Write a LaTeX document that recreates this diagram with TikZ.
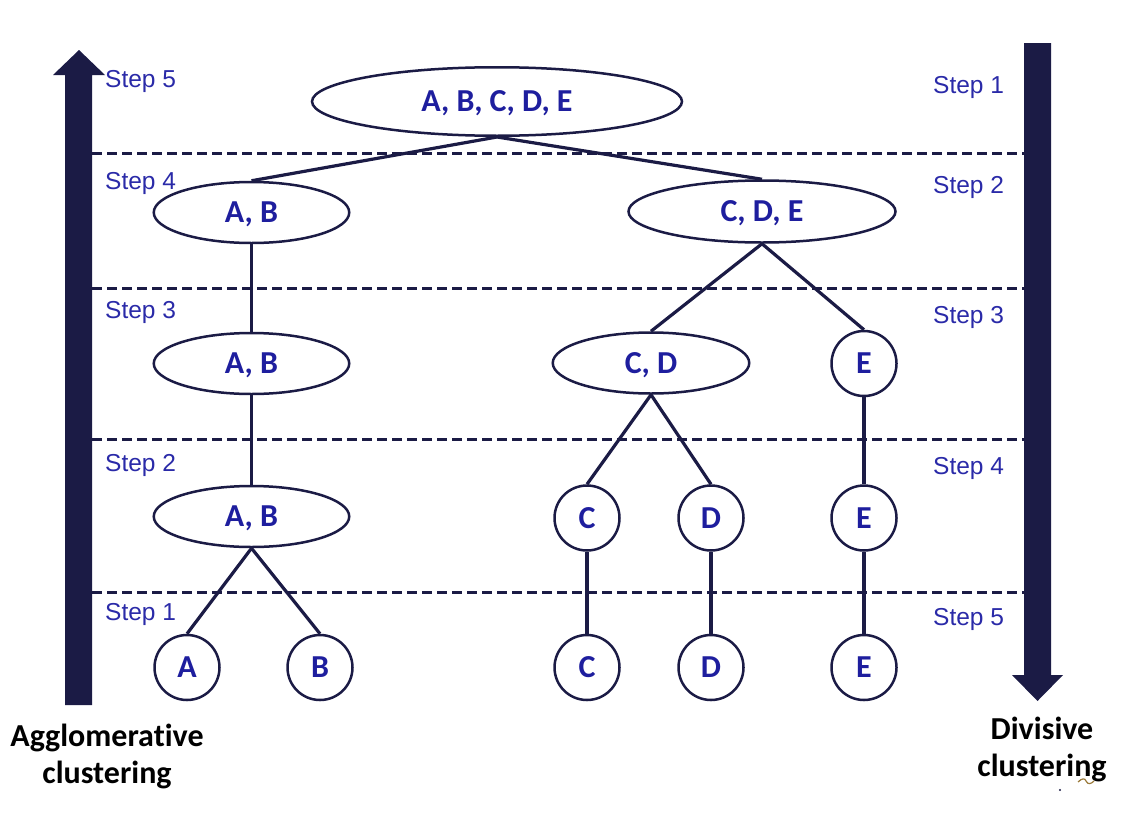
\documentclass[tikz,border=0pt]{standalone}
\usepackage{fontspec}
\setmainfont[Ligatures={NoCommon,NoContextual}]{Carlito}
\newfontfamily\arialf{Liberation Sans}
\usetikzlibrary{shapes.geometric}
\definecolor{navy}{HTML}{1B1B45}
\definecolor{lblue}{HTML}{1E1E9E}
\definecolor{sblue}{HTML}{2A2AA8}
\definecolor{squig}{HTML}{9A7A3A}
\tikzset{
  ell/.style={ellipse, draw=navy, line width=2.5pt, inner sep=0pt, text=lblue,
     font=\fontsize{32}{36}\selectfont\bfseries, text height=20.6pt, text depth=0pt},
  circ/.style={circle, draw=navy, line width=2.5pt, inner sep=0pt, minimum size=65pt, text=lblue,
     font=\fontsize{32}{36}\selectfont\bfseries, text height=20.6pt, text depth=0pt},
  conn/.style={draw=navy, line width=3.2pt},
  sep/.style={draw=navy, line width=3pt, dash pattern=on 10pt off 5pt},
  steplbl/.style={anchor=west, inner sep=0pt, text=sblue, font=\arialf\fontsize{24.5}{29}\selectfont},
  bottomlbl/.style={align=center, inner sep=0pt, text=black, font=\fontsize{32}{37}\selectfont\bfseries},
  bigarrow/.style={fill=navy, draw=none}
}
\begin{document}
\begin{tikzpicture}[x=1pt,y=-1pt]
\useasboundingbox (0,0) rectangle (1131,819);
% big arrows
\fill[bigarrow] (65,705) -- (65,75) -- (53,75) -- (79,50) -- (105,75) -- (92,75) -- (92,705) -- cycle;
\fill[bigarrow] (1024,43) -- (1024,675) -- (1012,675) -- (1037.5,701) -- (1063,675) -- (1051,675) -- (1051,43) -- cycle;
% dashed separators
\foreach \yy in {153,288,439,592} \draw[sep] (92,\yy) -- (1024,\yy);
% nodes
\node[ell, minimum width=370pt, minimum height=68.5pt] (abcde) at (497,101.5) {A, B, C, D, E};
\node[ell, minimum width=195.5pt, minimum height=61pt] (ab4) at (251.5,212.5) {A, B};
\node[ell, minimum width=267pt, minimum height=62pt] (cde) at (762,211.5) {C, D, E};
\node[ell, minimum width=195.5pt, minimum height=61pt] (ab3) at (251.5,363.5) {A, B};
\node[ell, minimum width=196.5pt, minimum height=61pt] (cd) at (651,363) {C, D};
\node[circ] (e3) at (864,363.5) {E};
\node[ell, minimum width=195.5pt, minimum height=61pt] (ab2) at (251.5,516.5) {A, B};
\node[circ] (c2) at (587,518) {C};
\node[circ] (d2) at (711,518) {D};
\node[circ] (e2) at (864,518) {E};
\node[circ] (a1) at (187,667.5) {A};
\node[circ] (b1) at (320,667.5) {B};
\node[circ] (c1) at (587,667.5) {C};
\node[circ] (d1) at (711,667.5) {D};
\node[circ] (e1) at (864,667.5) {E};
% connectors
\draw[conn] (abcde.south) -- (ab4.north);
\draw[conn] (abcde.south) -- (cde.north);
\draw[conn] (ab4.south) -- (ab3.north);
\draw[conn] (cde.south) -- (cd.north);
\draw[conn] (cde.south) -- (e3.north);
\draw[conn] (ab3.south) -- (ab2.north);
\draw[conn] (cd.south) -- (c2.north);
\draw[conn] (cd.south) -- (d2.north);
\draw[conn] (e3.south) -- (e2.north);
\draw[conn] (ab2.south) -- (a1.north);
\draw[conn] (ab2.south) -- (b1.north);
\draw[conn] (c2.south) -- (c1.north);
\draw[conn] (d2.south) -- (d1.north);
\draw[conn] (e2.south) -- (e1.north);
% step labels
\node[steplbl] (l5) at (105,81) {Step 5};
\node[steplbl] (l4) at (105,183) {Step 4};
\node[steplbl] (l3) at (105,312) {Step 3};
\node[steplbl] (l2) at (105,465) {Step 2};
\node[steplbl] (l1) at (105,614) {Step 1};
\node[steplbl] (r1) at (933,87) {Step 1};
\node[steplbl] (r2) at (933,187) {Step 2};
\node[steplbl] (r3) at (933,317) {Step 3};
\node[steplbl] (r4) at (933,468) {Step 4};
\node[steplbl] (r5) at (933,619) {Step 5};
% bottom labels
\node[bottomlbl] (agg) at (107,756) {Agglomerat\kern0pt ive\\clustering};
\node[bottomlbl] (div) at (1042,749) {Divisive\\clustering};
% spell-check squiggle and dot
\draw[squig, line width=1.2pt] (1078,782) .. controls (1082,778) and (1085,778) .. (1086,781) .. controls (1088,785) and (1091,784) .. (1094,781);
\fill[navy] (1060,790) circle (1.2pt);
\end{tikzpicture}
\end{document}
